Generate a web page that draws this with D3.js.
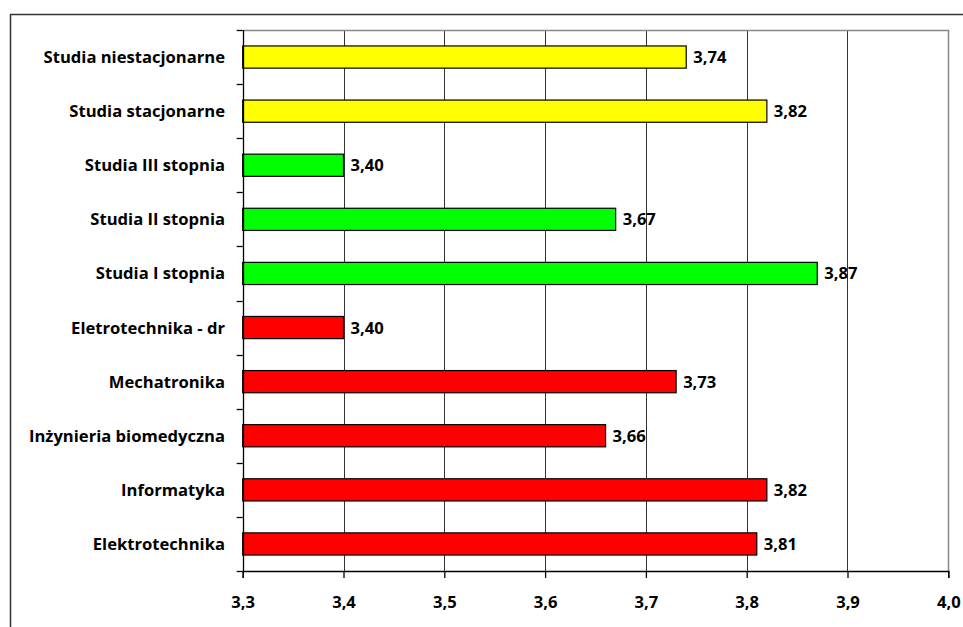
<!DOCTYPE html>
<html><head><meta charset="utf-8">
<script src="https://cdn.jsdelivr.net/npm/d3@7"></script>
<style>body{margin:0;background:#fff}svg{display:block}text{font-family:"Open Sans",Lato,sans-serif;font-weight:bold;fill:#000}</style>
</head><body>
<script>
const categories = ["Studia niestacjonarne","Studia stacjonarne","Studia III stopnia","Studia II stopnia","Studia I stopnia","Eletrotechnika - dr","Mechatronika","Inżynieria biomedyczna","Informatyka","Elektrotechnika"];
const values = [3.74,3.82,3.40,3.67,3.87,3.40,3.73,3.66,3.82,3.81];
const valueLabels = ["3,74","3,82","3,40","3,67","3,87","3,40","3,73","3,66","3,82","3,81"];
const groups = ["forma","forma","stopien","stopien","stopien","kierunek","kierunek","kierunek","kierunek","kierunek"];
const groupColors = {forma:"#ffff00", stopien:"#00ff00", kierunek:"#ff0000"};
const xTicks = [3.3,3.4,3.5,3.6,3.7,3.8,3.9,4.0];
const xTickLabels = ["3,3","3,4","3,5","3,6","3,7","3,8","3,9","4,0"];

const W=963,H=627;
const L=242.7,R=948.3,T=30,B=571;
const FS=16.6;
const svg=d3.select("body").append("svg").attr("width",W).attr("height",H);
svg.append("rect").attr("x",10.5).attr("y",14.5).attr("width",1000).attr("height",700).attr("fill","none").attr("stroke","#333").attr("stroke-width",1.5);

const x=d3.scaleLinear().domain([3.3,4.0]).range([L,R]);
const y=d3.scaleBand().domain(categories).range([T,B]).paddingInner(0.59).paddingOuter(0.295);

// grid
svg.append("g").selectAll("line").data(xTicks.slice(1,-1)).join("line")
 .attr("x1",d=>Math.round(x(d))+0.5).attr("x2",d=>Math.round(x(d))+0.5).attr("y1",T).attr("y2",B)
 .attr("stroke","#333").attr("stroke-width",1);
// plot border top/right
svg.append("path").attr("d",`M${L},${T+0.5}H${Math.round(R)+0.5}V${B}`).attr("fill","none").attr("stroke","#888").attr("stroke-width",1.5);

// bars
svg.append("g").selectAll("rect").data(categories).join("rect")
 .attr("x",x(3.3)).attr("y",d=>y(d)).attr("width",(d,i)=>x(values[i])-x(3.3)).attr("height",y.bandwidth())
 .attr("fill",(d,i)=>groupColors[groups[i]]).attr("stroke","#000").attr("stroke-width",1.2);

// value labels
svg.append("g").selectAll("text").data(categories).join("text")
 .attr("x",(d,i)=>x(values[i])+7).attr("y",d=>y(d)+y.bandwidth()/2).attr("dy","0.36em")
 .attr("font-size",FS).text((d,i)=>valueLabels[i]);

// y axis
const yEdges=d3.range(categories.length+1).map(i=>T+i*(B-T)/categories.length);
const ya=svg.append("g");
ya.append("line").attr("x1",Math.round(L)+0.5).attr("x2",Math.round(L)+0.5).attr("y1",T).attr("y2",B).attr("stroke","#000").attr("stroke-width",1.3);
ya.selectAll("line.t").data(yEdges).join("line").attr("class","t")
 .attr("x1",L-6).attr("x2",L).attr("y1",d=>Math.round(d)+0.5).attr("y2",d=>Math.round(d)+0.5).attr("stroke","#000").attr("stroke-width",1.3);
ya.selectAll("text").data(categories).join("text")
 .attr("x",225).attr("y",d=>y(d)+y.bandwidth()/2).attr("dy","0.36em").attr("text-anchor","end")
 .attr("font-size",FS).text(d=>d);

// x axis
const xa=svg.append("g").attr("transform",`translate(0,${B})`)
 .call(d3.axisBottom(x).tickValues(xTicks).tickSize(7).tickPadding(18).tickFormat((d,i)=>xTickLabels[i]));
xa.select(".domain").attr("stroke","#000").attr("stroke-width",1.3);
xa.selectAll(".tick line").attr("stroke","#000").attr("stroke-width",1.3);
xa.selectAll(".tick text").attr("font-size",FS).attr("font-family","'Open Sans',Lato,sans-serif").attr("font-weight","bold").attr("fill","#000");
</script>
</body></html>
